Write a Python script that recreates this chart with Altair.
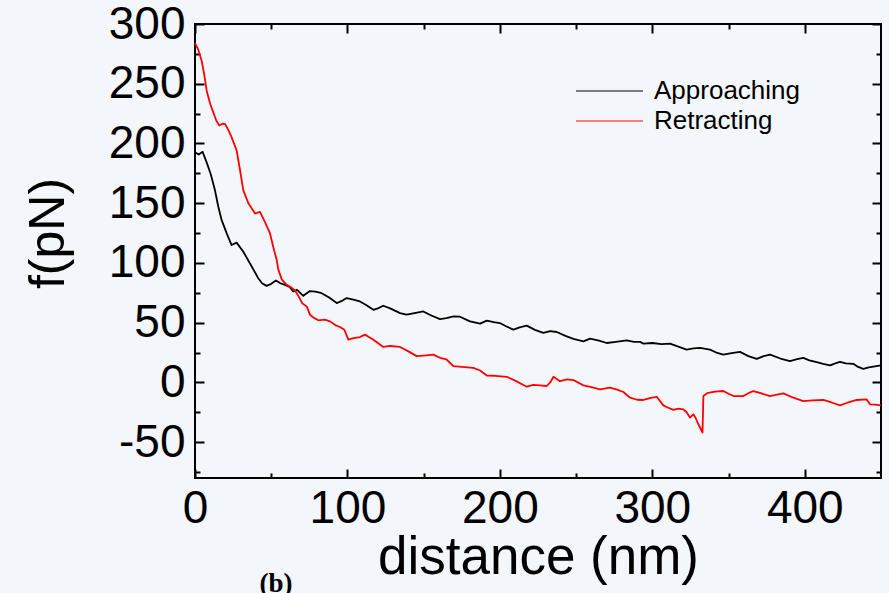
import altair as alt
import pandas as pd

# ---------------- data ----------------
series_names = ["Approaching", "Retracting"]
series_colors = ["#000000", "#ff0000"]

approach_x = [0, 2.4, 5, 7.7, 10.3, 13.1, 15.3, 17.5, 20.8, 24, 27.3, 31.7, 37.2, 41.5, 44, 47,
              50, 53.1, 56, 59, 62, 64.5, 67, 71, 75.4, 79, 83.1, 88, 93, 96, 99.5, 103.9,
              108.2, 112, 117, 120, 123.5, 128, 134.5, 138.9, 144, 149.8, 155, 160.7, 165,
              169.5, 173.8, 180.4, 187, 191.4, 196, 200, 204, 208.8, 213, 217.6, 223, 228.5,
              233, 237.3, 243, 248.2, 254.8, 259.2, 265, 270.1, 276, 283.2, 288, 292, 294.1,
              300, 306, 311.6, 317, 322.5, 327, 331.3, 337.8, 342, 346.6, 352, 357.5, 363,
              368.5, 373, 377.2, 384, 390.3, 395, 399, 403, 407.8, 412, 416.6, 420, 423.1,
              427, 431.8, 435, 438.4, 442, 446, 450]
approach_f = [192.7, 190.8, 193, 184, 174.5, 160.8, 147, 135.8, 124.7, 115, 117, 109.4, 97, 87.2, 83, 80.8,
              82.5, 85.3, 83, 81.7, 80, 76.1, 77.5, 72.5, 76.5, 76, 74.7, 71, 66.4, 68, 70.6, 69.2,
              67.8, 65, 60.8, 62, 64.2, 62, 58, 56.7, 58, 59.4, 56, 53, 53.9,
              55.3, 55, 51.1, 49.2, 51.7, 50.5, 49.7, 47, 44.2, 46, 47.5, 44, 41.4,
              43, 42.2, 39, 36.4, 34.4, 36.7, 35, 33, 34, 35.2, 34, 33.9, 32.5,
              33, 32, 32.5, 30, 27.5, 28.5, 28.9, 27.5, 25, 23.3, 24.5, 25.6, 22,
              19.7, 22, 23.3, 20, 17.8, 19.5, 20.6, 18.5, 16.9, 15.5, 14.2, 16, 17.2,
              16, 15.6, 13, 11.4, 12.5, 13.5, 14.2]

retract_x = [0, 2, 4.4, 6, 7.7, 10, 12, 14, 16, 18, 19.7, 22, 24, 27.3, 29.5, 31.7, 35, 39.4,
             42.6, 46, 49.2, 52, 53.6, 54.7, 57, 60.1, 62.5, 65.6, 68, 70.5, 73.3, 75.4, 78,
             80.9, 85, 88.6, 92, 95.1, 98, 100.6, 104, 108.2, 111.5, 114, 117, 120, 123.5,
             128, 134.5, 140, 145.4, 150, 156.3, 160.7, 165, 169.5, 175, 182.6, 187, 191.4,
             197, 204.5, 210, 217.6, 222, 226.4, 230.8, 233, 235.2, 239.4, 244, 248.2, 254.8,
             260, 265.7, 272.2, 277, 281, 285.4, 290, 294.1, 299, 302.9, 307.2, 310, 313.8,
             317, 320.3, 322.5, 324.7, 326.9, 328.5, 330.2, 332.9, 333.5, 336, 340.1, 343,
             346.6, 350, 353.2, 359.7, 363, 366.3, 371, 377.2, 381, 386, 392.5, 399, 405,
             412.2, 418, 423.1, 428, 434, 440.6, 442.8, 446, 450]
retract_f = [284, 279, 269, 258, 244, 233, 226, 219, 215, 216.5, 216.4, 211, 205.3, 194.2, 178, 160.8, 150, 141.4,
             142.8, 134, 124.7, 110, 102.5, 94.2, 86, 81.7, 80, 77, 72, 66, 63.6, 56.7, 54,
             52, 52.5, 51.1, 48, 46.4, 44, 35.8, 37, 38, 40, 38, 35.8, 33, 29.7,
             30.5, 29.7, 26, 22, 22.5, 23.3, 20.6, 19.2, 13.6, 13, 12.2, 10, 5.8,
             5.5, 4.7, 1.5, -3.6, -2, -2.5, -3, 0, 4.7, 1, 2.5, 2, -2.5,
             -4, -5.8, -4.4, -6, -8, -12.8, -14.5, -14.7, -13, -12, -19.2, -21, -23,
             -22, -22.5, -25, -29.4, -26.7, -30, -35, -41.9, -11.4, -9, -8, -7.5,
             -7.2, -9.5, -11.4, -11.4, -9, -7.2, -9, -11.4, -10.5, -9.2, -12.8, -15.6, -15,
             -14.7, -17, -19.2, -17, -14.7, -14.2, -18.3, -18.5, -19.2]

x_major = [0, 100, 200, 300, 400]
x_minor = [50, 150, 250, 350]
y_major = [-50, 0, 50, 100, 150, 200, 250, 300]
y_minor = [-75, -25, 25, 75, 125, 175, 225, 275]
x_domain = [0, 450]
y_domain = [-80, 300]
panel_tag = ["(b)"]

df = pd.concat([
    pd.DataFrame({"distance": approach_x, "force": approach_f, "series": series_names[0]}),
    pd.DataFrame({"distance": retract_x, "force": retract_f, "series": series_names[1]}),
], ignore_index=True)

FONT = "Liberation Sans"
xscale = alt.Scale(domain=x_domain, nice=False, zero=False)
yscale = alt.Scale(domain=y_domain, nice=False, zero=False)


def tick_axis(orient, values, size):
    return alt.Axis(orient=orient, values=values, offset=-size, tickSize=size,
                    tickColor="black", tickWidth=2, domain=False, grid=False,
                    labels=False, title="")


x_main = alt.Axis(orient="bottom", values=x_major, offset=-9, tickSize=9, tickColor="black",
                  tickWidth=2, domain=False, grid=False, labelFont=FONT, labelFontSize=46,
                  labelColor="black", labelPadding=8, labelFlush=False, labelOverlap=False,
                  title="distance (nm)", titleFont=FONT, titleFontSize=53,
                  titleFontWeight="normal", titleColor="black", titleBaseline="alphabetic",
                  titleY=104)
y_main = alt.Axis(orient="left", values=y_major, offset=-9, tickSize=9, tickColor="black",
                  tickWidth=2, domain=False, grid=False, labelFont=FONT, labelFontSize=46,
                  labelColor="black", labelPadding=10, labelOverlap=False,
                  labelExpr="'' + datum.value",
                  title="f(pN)", titleFont=FONT, titleFontSize=50, titleFontWeight="normal",
                  titleColor="black", titleAngle=270, titleBaseline="alphabetic",
                  titleAlign="center", titleX=-141, titleY=209)

lines = alt.Chart(df).mark_line(strokeWidth=1.8, strokeJoin="round").encode(
    x=alt.X("distance:Q", scale=xscale, axis=x_main),
    y=alt.Y("force:Q", scale=yscale, axis=y_main),
    color=alt.Color("series:N", scale=alt.Scale(domain=series_names, range=series_colors),
                    legend=alt.Legend(title=None, orient="none", legendX=380, legendY=52,
                                      symbolType="stroke", symbolSize=4489,
                                      symbolStrokeWidth=1.2, clipHeight=30, rowPadding=0,
                                      labelFont=FONT, labelFontSize=26, labelColor="black",
                                      labelOffset=10, padding=0, direction="vertical")),
)

ghost = alt.Chart(df).mark_line(opacity=0)
l2 = ghost.encode(
    x=alt.X("distance:Q", scale=xscale, axis=tick_axis("bottom", x_minor, 5)),
    y=alt.Y("force:Q", scale=yscale, axis=tick_axis("left", y_minor, 5)),
    detail="series:N",
)
l3 = ghost.encode(
    x=alt.X("distance:Q", scale=xscale, axis=tick_axis("top", x_major, 9)),
    y=alt.Y("force:Q", scale=yscale, axis=tick_axis("right", y_major, 9)),
    detail="series:N",
)
l4 = ghost.encode(
    x=alt.X("distance:Q", scale=xscale, axis=tick_axis("top", x_minor, 5)),
    y=alt.Y("force:Q", scale=yscale, axis=tick_axis("right", y_minor, 5)),
    detail="series:N",
)

tag = alt.Chart(pd.DataFrame({"t": panel_tag})).mark_text(
    font="Liberation Serif", fontSize=27, fontWeight="bold", align="center",
    baseline="alphabetic", color="black"
).encode(text="t:N", x=alt.value(81), y=alt.value(568))

chart = alt.layer(lines, l2, l3, l4, tag).resolve_axis(
    x="independent", y="independent"
).properties(
    width=686, height=454,
    autosize=alt.AutoSizeParams(type="none"),
    padding={"left": 195, "top": 24, "right": 8, "bottom": 115},
    background="#f3f6fb",
).configure_view(stroke="black", strokeWidth=2)

chart.save("out.html", embed_options={"renderer": "svg", "actions": False})
